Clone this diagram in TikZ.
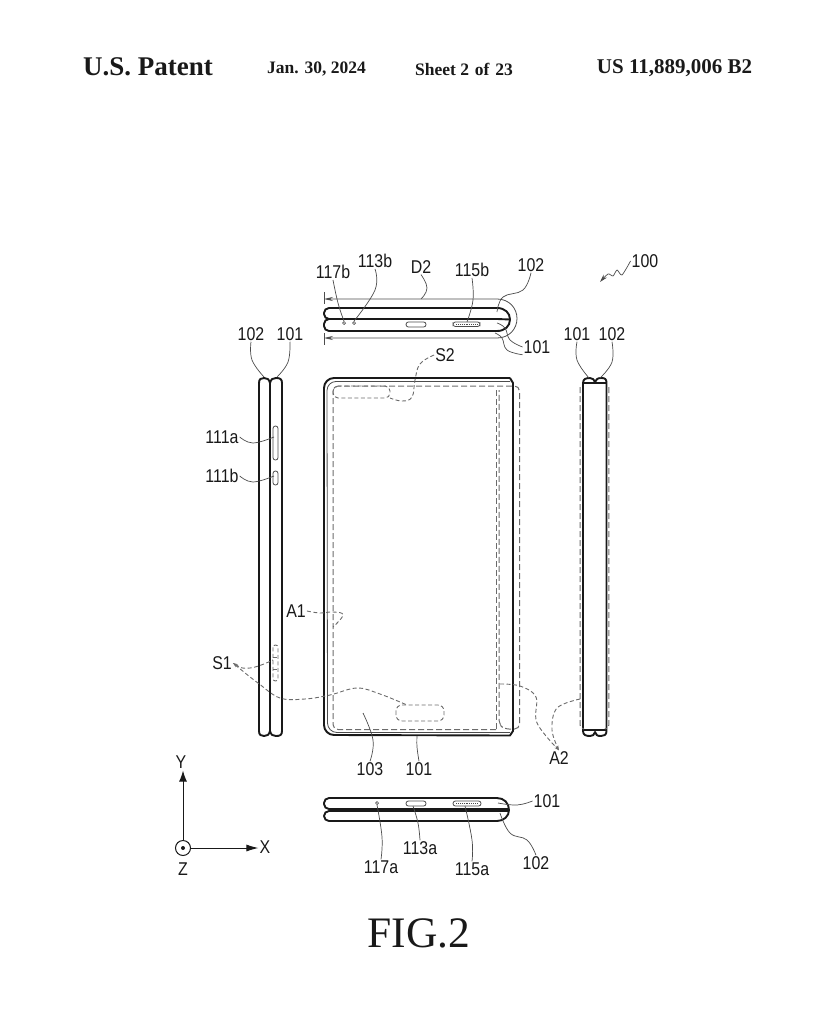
\documentclass[tikz,border=0pt]{standalone}
\usepackage{fontspec}
\setmainfont{Liberation Sans}[FakeStretch=0.86]
\newfontfamily\serifhead{Liberation Serif}
\usetikzlibrary{arrows.meta}
\definecolor{ink}{gray}{0.1}
\definecolor{dashc}{gray}{0.42}
\definecolor{leadc}{gray}{0.3}
\tikzset{
 body/.style={draw=ink,line width=1.9pt,line join=round},
 thinbody/.style={draw=leadc,line width=0.8pt},
 hidden/.style={draw=dashc,line width=1pt,dash pattern=on 6pt off 3pt},
 leader/.style={draw=leadc,line width=0.7pt},
 dashleader/.style={draw=dashc,line width=0.9pt,dash pattern=on 4pt off 2.5pt},
 lab/.style={font=\fontsize{18.5}{18.5}\selectfont,text=ink,inner sep=1pt},
 hole/.style={draw=leadc,line width=0.8pt,rounded corners=2.4pt},
 dotm/.style={circle,draw=leadc,line width=0.7pt,inner sep=0pt,minimum size=3pt},
 head/.style={font=\serifhead\bfseries\fontsize{17.5}{17.5}\selectfont,text=ink,inner sep=0pt},
 tiparrow/.style={-{Stealth[length=8pt,width=4.5pt]}},
}
\begin{document}
\begin{tikzpicture}[x=1pt,y=-1pt]
\useasboundingbox (0,0) rectangle (818,1024);
% header
\node[head,font=\serifhead\bfseries\fontsize{27}{27}\selectfont] (hA) at (148,67) {U.S. Patent};
\node[head] (hB) at (316.5,69) {Jan. 30, 2024};
\node[head,font=\serifhead\bfseries\fontsize{17.5}{17.5}\selectfont,align=center] (hC) at (464,69) {Sheet 2\hspace{1.5pt} of\hspace{1.5pt} 23};
\node[head,font=\serifhead\bfseries\fontsize{21}{21}\selectfont] (hD) at (674.5,68) {US 11,889,006 B2};
\node[font=\serifhead\fontsize{43.5}{43.5}\selectfont,text=ink,inner sep=0pt] (fig) at (419,933) {FIG.2};

% labels
\node[lab] (l117b) at (333,272) {117b};
\node[lab] (l113b) at (375,261) {113b};
\node[lab] (lD2) at (421,267) {D2};
\node[lab] (l115b) at (472,270) {115b};
\node[lab] (l102t) at (531,265) {102};
\node[lab] (l101t) at (537,347) {101};
\node[lab] (lS2) at (445,355) {S2};
\node[lab] (l100) at (645,261) {100};
\node[lab] (l101r) at (577,334) {101};
\node[lab] (l102r) at (612,334) {102};
\node[lab] (l102l) at (251,334) {102};
\node[lab] (l101l) at (290,334) {101};
\node[lab] (l111a) at (222,437) {111a};
\node[lab] (l111b) at (222,476) {111b};
\node[lab] (lA1) at (296,611) {A1};
\node[lab] (lS1) at (222,663) {S1};
\node[lab] (l103) at (370,769) {103};
\node[lab] (l101m) at (419,769) {101};
\node[lab] (lA2) at (559,758) {A2};
\node[lab] (l101b) at (547,801) {101};
\node[lab] (l102b) at (536,863) {102};
\node[lab] (l113a) at (420,848) {113a};
\node[lab] (l117a) at (381,867) {117a};
\node[lab] (l115a) at (472,869) {115a};
\node[lab] (lY) at (181,762) {Y};
\node[lab] (lX) at (265,847) {X};
\node[lab] (lZ) at (183,869) {Z};

% top view
\draw[body] (497,308) -- (329,308) arc[start angle=270,end angle=180,radius=5] -- (324,314) arc[start angle=180,end angle=90,radius=5] -- (497,319);
\draw[body] (497,319) -- (329,319) arc[start angle=270,end angle=180,radius=5] -- (324,326) arc[start angle=180,end angle=90,radius=5] -- (497,331);
\draw[body] (497,308) .. controls (505,308) and (510,313) .. (510,319.5) .. controls (510,326) and (505,331) .. (497,331);
\draw[body] (497,319) -- (510,319.5);
\node[dotm] (d117b) at (344,323) {};
\node[dotm] (d113b) at (354,323) {};
\draw[hole] (406,322) rectangle (426,327);
\draw[hole] (453,322) rectangle (480,326.5);
\draw[leadc,line width=0.9pt,densely dotted] (456,324.2) -- (477,324.2);
% dimension D2
\coordinate (tickA1) at (324,292); \coordinate (tickA2) at (324,304);
\coordinate (tickB1) at (324,333); \coordinate (tickB2) at (324,345);
\draw[leader] (tickA1) -- (tickA2);
\draw[leader] (tickB1) -- (tickB2);
\coordinate (dimA) at (324,299); \coordinate (dimB) at (324,338);
\draw[leader,line width=0.8pt,{Stealth[length=9pt,width=4pt]}-{Stealth[length=9pt,width=4pt]}] (dimA) -- (497,299) .. controls (509,299) and (517,308) .. (517,318.5) .. controls (517,329) and (509,338) .. (497,338) -- (dimB);

% left view
\draw[body] (259,383) .. controls (259,379) and (261,378) .. (264,378) .. controls (267,378) and (269,379) .. (270,383) .. controls (271,379) and (273,378) .. (276,378) .. controls (280,378) and (282,379) .. (282,383) -- (282,731) .. controls (282,735) and (280,736) .. (276,736) .. controls (273,736) and (271,735) .. (270,731) .. controls (269,735) and (267,736) .. (264,736) .. controls (261,736) and (259,735) .. (259,731) -- cycle;
\draw[body] (270,383) -- (270,731);
\draw[hole] (273,426) rectangle (278,460);
\draw[hole] (273,471) rectangle (278,485);
\draw[dashleader,rounded corners=2.4pt] (273,645) rectangle (278,681);
\draw[dashleader] (273,657) -- (278,657) (273,669) -- (278,669);

% main front view
\draw[body] (510,378) -- (334,378) arc[start angle=270,end angle=180,radius=10] -- (324,725) arc[start angle=180,end angle=90,radius=10] -- (510,735.5) -- (513,731) -- (513,383) -- (510,378);
\draw[thinbody] (510,381.5) -- (336,381.5) arc[start angle=270,end angle=180,radius=9] -- (327.5,723) arc[start angle=180,end angle=90,radius=9.5] -- (510,732.5);
% active area
\draw[hidden,rounded corners=5pt] (496,729.5) -- (333,729.5) -- (333,386) -- (519.5,386) -- (519.5,729) -- (504,729) -- (499,724) -- (499,390);
\draw[hidden] (496,390) -- (496,729.5);
% S2 and bottom S1 sensors
\draw[dashleader,rounded corners=5pt] (333,386) -- (390,386) -- (390,398) -- (333,398) -- cycle;
\draw[dashleader,rounded corners=6pt] (396,705) rectangle (444,721);
\coordinate (endS2) at (390,398);
\draw[dashleader] plot[smooth,tension=.7] coordinates {(lS2.west) (420,364) (415,380) (412,397) (402,401) (endS2)};
\coordinate (endA1) at (333,627);
\draw[dashleader] plot[smooth,tension=.7] coordinates {(lA1.east) (320,613) (333,612) (343,615) (endA1)};
\coordinate (endS1a) at (273,660);
\coordinate (endS1b) at (407,705);
\draw[dashleader,{Stealth[length=5pt,width=3pt]}-] plot[smooth,tension=.7] coordinates {(lS1.east) (250,668) (endS1a)};
\draw[dashleader,{Stealth[length=5pt,width=3pt]}-] plot[smooth,tension=.6] coordinates {(lS1.east) (258,683) (280,698) (305,699) (330,695) (357,688) (380,694) (endS1b)};
% A2 leaders
\coordinate (srcA2a) at (500,684);
\coordinate (srcA2b) at (580,699);
\draw[dashleader,-{Stealth[length=5pt,width=3pt]}] plot[smooth,tension=.6] coordinates {(srcA2a) (520,686) (536,697) (537,723) (lA2.north)};
\draw[dashleader,-{Stealth[length=5pt,width=3pt]}] plot[smooth,tension=.6] coordinates {(srcA2b) (557,708) (552,730) (lA2.north)};

% right view
\draw[body] (583,383) .. controls (583,379) and (586,378) .. (590,378) .. controls (593,378) and (594,380) .. (595,382) .. controls (596,380) and (597,378) .. (601,378) .. controls (605,378) and (606.5,379) .. (606.5,383) -- (606.5,731) .. controls (606.5,735) and (604,736) .. (601,736) .. controls (597,736) and (596,735) .. (595,732) .. controls (594,735) and (593,736) .. (590,736) .. controls (586,736) and (583,735) .. (583,731) -- cycle;
\draw[body,line width=1.1pt] (583,383) -- (606.5,383) (583,730) -- (606.5,730);
\draw[hidden] (580,387) -- (580,725) arc[start angle=180,end angle=90,radius=4];
\draw[hidden] (608.8,387) -- (608.8,725) arc[start angle=0,end angle=90,radius=4];

% bottom view
\draw[body] (497,798) -- (329,798) arc[start angle=270,end angle=180,radius=5] -- (324,804) arc[start angle=180,end angle=90,radius=5] -- (497,809);
\draw[body] (497,811) -- (329,811) arc[start angle=270,end angle=180,radius=5] -- (324,816) arc[start angle=180,end angle=90,radius=5] -- (497,821);
\draw[body] (497,798) .. controls (504,798) and (509,803) .. (509,810) .. controls (509,816) and (504,821) .. (497,821);
\draw[body,line width=1.1pt] (497,809) -- (508,809) (497,811) -- (508,811);
\node[dotm] (d117a) at (377,803) {};
\draw[hole] (406,801) rectangle (426,806);
\draw[hole] (453,801) rectangle (481,806);
\draw[leadc,line width=0.9pt,densely dotted] (456,803.5) -- (478,803.5);

% solid leaders
\draw[leader] plot[smooth,tension=.7] coordinates {(l117b.south) (338,303) (d117b.north)};
\draw[leader] plot[smooth,tension=.7] coordinates {(l113b.south) (375,290) (d113b.north)};
\coordinate (onD2) at (421,299);
\draw[leader] plot[smooth,tension=.8] coordinates {(lD2.south) (427,288) (onD2)};
\coordinate (in115b) at (467,322);
\draw[leader] plot[smooth,tension=.7] coordinates {(l115b.south) (473,300) (in115b)};
\coordinate (in102t) at (497,312);
\draw[leader] plot[smooth,tension=.7] coordinates {(l102t.south) (523,290) (503,297) (in102t)};
\coordinate (in101t) at (497,323);
\coordinate (in101u) at (495,333);
\draw[leader] plot[smooth,tension=.7] coordinates {(l101t.west) (510,340) (505,328) (in101t)};
\draw[leader] plot[smooth,tension=.7] coordinates {(l101t.south west) (507,350) (502,338) (in101u)};
\coordinate (top102l) at (264,377);
\coordinate (top101l) at (277,377);
\draw[leader] plot[smooth,tension=.7] coordinates {(l102l.south) (252,360) (top102l)};
\draw[leader] plot[smooth,tension=.7] coordinates {(l101l.south) (288,362) (top101l)};
\coordinate (to111a) at (274,437);
\coordinate (to111b) at (274,476);
\draw[leader] plot[smooth,tension=.7] coordinates {(l111a.east) (253,443) (to111a)};
\draw[leader] plot[smooth,tension=.7] coordinates {(l111b.east) (253,482) (to111b)};
\coordinate (top101r) at (589,378);
\coordinate (top102r) at (600,378);
\draw[leader] plot[smooth,tension=.7] coordinates {(l101r.south) (577,360) (top101r)};
\draw[leader] plot[smooth,tension=.7] coordinates {(l102r.south) (612,362) (top102r)};
\coordinate (tip100) at (600,282);
\draw[leader,tiparrow] plot[smooth,tension=.4] coordinates {(l100.west) (622,275) (617,270) (613,276) (608,274) (tip100)};
\coordinate (in103) at (363,713);
\coordinate (in101m) at (417,736);
\draw[leader] plot[smooth,tension=.7] coordinates {(l103.north) (373,740) (in103)};
\draw[leader] plot[smooth,tension=.7] coordinates {(l101m.north) (417,747) (in101m)};
\coordinate (in101b) at (498,803);
\coordinate (in102b) at (500,813);
\draw[leader] plot[smooth,tension=.7] coordinates {(l101b.west) (517,805) (in101b)};
\draw[leader] plot[smooth,tension=.7] coordinates {(l102b.north) (527,840) (510,833) (in102b)};
\coordinate (in113a) at (413,806);
\coordinate (in115a) at (465,806);
\draw[leader] plot[smooth,tension=.7] coordinates {(l113a.north) (418,823) (in113a)};
\draw[leader] plot[smooth,tension=.7] coordinates {(l117a.north) (382,837) (d117a.south)};
\draw[leader] plot[smooth,tension=.7] coordinates {(l115a.north) (472,840) (in115a)};

% axes
\node[circle,draw=ink,line width=1pt,inner sep=0pt,minimum size=15pt] (org) at (183,848) {};
\node[circle,fill=ink,inner sep=0pt,minimum size=4pt] (orgdot) at (183,848) {};
\draw[ink,line width=1pt,shorten >=1pt,-{Latex[length=11pt,width=8pt]}] (org.north) -- (lY.south -| org.north);
\draw[ink,line width=1pt,-{Latex[length=12pt,width=7pt]}] (org.east) -- (lX.west |- org.east);
\end{tikzpicture}
\end{document}
